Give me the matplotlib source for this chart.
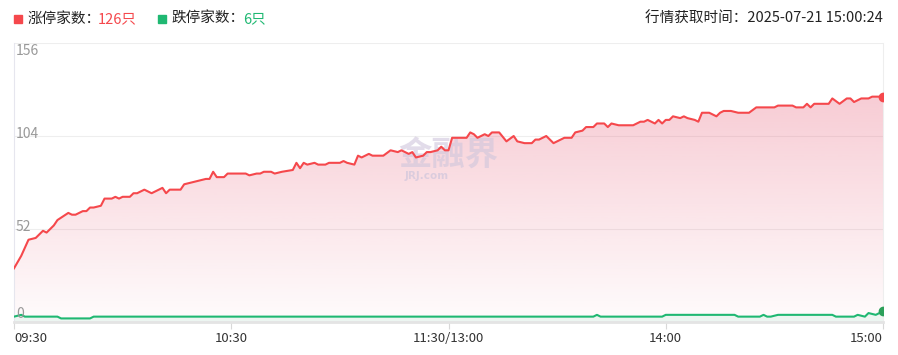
import numpy as np
import matplotlib
matplotlib.use('Agg')
from matplotlib import pyplot as plt
from matplotlib.patches import Rectangle

plt.rcParams['font.family'] = ['Noto Sans CJK SC', 'DejaVu Sans']

RED = '#f5484c'
GREEN = '#1fb872'
W, H = 898, 355

# minutes from 09:30 (trading time, lunch break removed) and counts
up_min = [0, 2, 4, 6, 8, 9, 11, 12, 15, 16, 17, 19, 20, 21, 22, 24, 25, 27, 28, 29,
          30, 32, 33, 34, 36, 38, 40, 41, 42, 43, 46, 47, 49, 51, 53, 54, 55, 56, 58, 59,
          61, 62, 64, 65, 67, 68, 69, 71, 72, 74, 77, 78, 79, 80, 81, 83, 84, 86, 87, 90,
          91, 92, 94, 95, 96, 98, 99, 101, 102, 104, 106, 107, 109, 110, 111, 113, 114, 115, 117, 118,
          119, 120, 121, 125, 126, 127, 128, 130, 131, 132, 134, 136, 138, 139, 141, 143, 144, 145, 147, 149,
          152, 154, 155, 157, 158, 160, 161, 162, 163, 164, 165, 167, 171, 173, 174, 175, 177, 178, 179, 180,
          181, 182, 184, 185, 186, 188, 189, 190, 192, 194, 195, 196, 198, 200, 203, 205, 210, 211, 215, 216,
          218, 219, 220, 221, 225, 226, 228, 230, 231, 232, 234, 236, 237, 239, 240]
up_cnt = [30, 37, 46, 47, 51, 50, 54, 57, 61, 60, 60, 62, 62, 64, 64, 65, 69, 69, 70, 69,
          70, 70, 72, 72, 74, 72, 74, 75, 72, 74, 74, 77, 78, 79, 80, 80, 84, 81, 81, 83,
          83, 83, 83, 82, 83, 83, 84, 84, 83, 84, 85, 89, 86, 89, 88, 89, 88, 88, 89, 89,
          90, 89, 88, 93, 92, 94, 93, 93, 93, 96, 95, 96, 94, 95, 92, 93, 95, 95, 96, 98,
          96, 96, 103, 103, 106, 105, 103, 105, 104, 106, 106, 101, 104, 101, 100, 100, 102, 102, 104, 100,
          103, 103, 106, 107, 109, 109, 111, 111, 111, 109, 111, 110, 110, 112, 112, 113, 111, 113, 111, 113,
          113, 115, 114, 115, 114, 113, 112, 117, 117, 115, 117, 118, 118, 117, 117, 120, 120, 121, 121, 120,
          120, 122, 120, 122, 122, 125, 122, 125, 125, 123, 125, 125, 126, 126, 126]

down_min = [0, 2, 3, 12, 13, 21, 22, 160, 161, 162, 179, 180, 199, 200, 206, 207, 208, 209, 211, 226,
            227, 232, 233, 235, 236, 238, 240]
down_cnt = [3, 4, 3, 3, 2, 2, 3, 3, 4, 3, 3, 4, 4, 3, 3, 4, 3, 3, 4, 4,
            3, 3, 4, 3, 5, 4, 6]

x_ticks = [0, 60, 120, 180, 240]
x_labels = ['09:30', '10:30', '11:30/13:00', '14:00', '15:00']
y_ticks = [0, 52, 104, 156]

up_total = 126
down_total = 6
fetch_time = '2025-07-21 15:00:24'


def px(x, y):
    return x / W, 1 - y / H


fig = plt.figure(figsize=(W / 100, H / 100), dpi=100)
ax = fig.add_axes([14 / W, (H - 322) / H, (883 - 14) / W, (322 - 43) / H])
ax.set_xlim(0, 240)
ax.set_ylim(0, 156)

# grid
for v in y_ticks[1:]:
    ax.axhline(v, color='#eeeeee', lw=0.8, zorder=0)

# red area with vertical gradient
poly = ax.fill_between(up_min, up_cnt, 0, color='none', lw=0)
top = max(up_cnt)
grad = np.zeros((256, 1, 4))
grad[:, 0, 0:3] = matplotlib.colors.to_rgb('#e8607a')
grad[:, 0, 3] = np.linspace(0.32, 0.02, 256)
img = ax.imshow(grad, extent=[0, 240, 0, top], aspect='auto', origin='upper', zorder=1)
img.set_clip_path(poly.get_paths()[0], transform=ax.transData)

ax.fill_between(down_min, down_cnt, 0, color=GREEN, alpha=0.08, lw=0, zorder=1)

ax.plot(up_min, up_cnt, color=RED, lw=1.5, zorder=3, solid_joinstyle='round')
ax.plot(down_min, down_cnt, color=GREEN, lw=1.5, zorder=3, solid_joinstyle='round')
ax.plot(up_min[-1], up_cnt[-1], 'o', color=RED, ms=6, zorder=4)
ax.plot(down_min[-1], down_cnt[-1], 'o', color='#2ca05a', ms=6, zorder=4)

# watermark
ax.text(120, 93, '金融界', fontsize=24, fontweight='bold', color='#cfc6dc', alpha=0.6,
        ha='center', va='center', zorder=2)
ax.text(114, 81.5, 'JRJ.com', fontsize=7.5, fontweight='bold', color='#cfc6dc', alpha=0.7,
        ha='center', va='center', zorder=2, family='DejaVu Sans')

# spines
ax.spines['top'].set_visible(False)
ax.spines['left'].set_color('#e6e6ee')
ax.spines['right'].set_color('#eeeeee')
ax.spines['bottom'].set_color('#e4e4e4')
ax.spines['bottom'].set_linewidth(2)
ax.spines['left'].set_linewidth(0.8)
ax.spines['right'].set_linewidth(0.8)

ax.set_yticks([])
ax.set_xticks(x_ticks)
ax.set_xticklabels([])
ax.tick_params(axis='x', length=5, color='#d8d8d8', width=0.8)

for t, lab in zip(x_ticks, x_labels):
    ha = 'left' if t == 0 else ('right' if t == 240 else 'center')
    ax.text(t, -9, lab, ha=ha, va='center', fontsize=9.5, color='#333333', clip_on=False)

for v in y_ticks:
    if v == 156:
        va, dy = 'top', -0.3
    elif v == 0:
        va, dy = 'bottom', 0.6
    else:
        va, dy = 'center', 1.0
    ax.text(0.5, v + dy, str(v), ha='left', va=va, fontsize=10, color='#999999', zorder=5)

# header
fig.patches.append(Rectangle(px(14, 23), 8 / W, 8 / H, transform=fig.transFigure,
                             color=RED, figure=fig))
fig.patches.append(Rectangle(px(158, 23), 8 / W, 8 / H, transform=fig.transFigure,
                             color=GREEN, figure=fig))
fig.text(*px(28, 19), '涨停家数：', fontsize=10.5, color='#222222', va='center')
fig.text(*px(98, 19), f'{up_total}只', fontsize=10.5, color=RED, va='center')
fig.text(*px(172, 19), '跌停家数：', fontsize=10.5, color='#222222', va='center')
fig.text(*px(243, 19), f'{down_total}只', fontsize=10.5, color=GREEN, va='center')
fig.text(*px(883, 19), f'行情获取时间：{fetch_time}', fontsize=10.5, color='#222222',
         va='center', ha='right')

fig.savefig('out.png', dpi=100)
